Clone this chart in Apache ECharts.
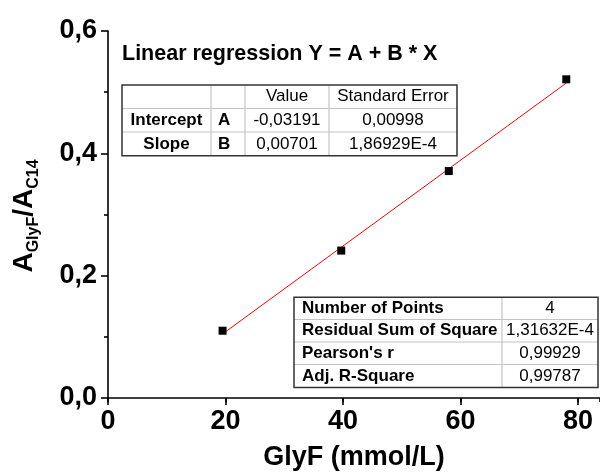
<!DOCTYPE html>
<html>
<head>
<meta charset="utf-8">
<script src="https://cdn.jsdelivr.net/npm/echarts@6/dist/echarts.min.js"></script>
<style>
  html, body { margin: 0; padding: 0; background: #fff; }
  #chart { width: 600px; height: 476px; }
</style>
</head>
<body>
<div id="chart"></div>
<script>
// Measured points: GlyF concentration vs. peak-area ratio
var concentration = [19.5, 39.7, 58.0, 78.0];
var areaRatio = [0.110, 0.241, 0.371, 0.521];

// Linear fit parameters (Y = A + B * X)
var fitIntercept = -0.03191;
var fitSlope = 0.00701;

// Axis tick values
var xTicks = [0, 20, 40, 60, 80];
var xMinorTicks = [10, 30, 50, 70];
var yTicks = [0.0, 0.2, 0.4, 0.6];
var xAxisEnd = 83.74;

// Parameter table
var paramHeader = ['', '', 'Value', 'Standard Error'];
var paramRows = [
  ['Intercept', 'A', '-0,03191', '0,00998'],
  ['Slope', 'B', '0,00701', '1,86929E-4']
];

// Statistics table
var statRows = [
  ['Number of Points', '4'],
  ['Residual Sum of Square', '1,31632E-4'],
  ["Pearson's r", '0,99929'],
  ['Adj. R-Square', '0,99787']
];

var FONT = 'Arial, "Liberation Sans", Helvetica, sans-serif';

// Fitted line spans the measured range
var xFirst = concentration[0];
var xLast = concentration[concentration.length - 1];
var fitLine = [
  [xFirst, fitIntercept + fitSlope * xFirst],
  [xLast, fitIntercept + fitSlope * xLast]
];

function commaDecimal(v) {
  return v.toFixed(1).replace('.', ',');
}

// Build a bordered table out of graphic elements
function buildTable(colEdges, rowEdges, cells, cellStyle) {
  var els = [];
  var x0 = colEdges[0], x1 = colEdges[colEdges.length - 1];
  var y0 = rowEdges[0], y1 = rowEdges[rowEdges.length - 1];
  var i;
  for (i = 1; i < rowEdges.length - 1; i++) {
    els.push({ type: 'line', shape: { x1: x0, y1: rowEdges[i], x2: x1, y2: rowEdges[i] },
      style: { stroke: '#c4c4c4', lineWidth: 1.2 } });
  }
  for (i = 1; i < colEdges.length - 1; i++) {
    els.push({ type: 'line', shape: { x1: colEdges[i], y1: y0, x2: colEdges[i], y2: y1 },
      style: { stroke: '#c4c4c4', lineWidth: 1.2 } });
  }
  els.push({ type: 'rect', shape: { x: x0, y: y0, width: x1 - x0, height: y1 - y0 },
    style: { fill: null, stroke: '#333', lineWidth: 1.5 } });
  cells.forEach(function (row, r) {
    row.forEach(function (txt, c) {
      if (!txt) return;
      var st = cellStyle(r, c);
      var cx = st.align === 'left' ? colEdges[c] + st.pad : (colEdges[c] + colEdges[c + 1]) / 2;
      els.push({ type: 'text', x: cx, y: (rowEdges[r] + rowEdges[r + 1]) / 2,
        style: { text: txt, align: st.align, verticalAlign: 'middle', fill: '#000',
          font: (st.bold ? 'bold ' : '') + '17px ' + FONT } });
    });
  });
  return els;
}

var graphics = [];

// Regression caption
graphics.push({ type: 'text', x: 122, y: 53.6,
  style: { text: 'Linear regression Y = A + B * X', align: 'left', verticalAlign: 'middle',
    fill: '#000', font: 'bold 21.5px ' + FONT } });

graphics = graphics.concat(buildTable(
  [122, 211, 245, 329, 457],
  [85, 108.5, 132, 155.7],
  [paramHeader].concat(paramRows),
  function (r, c) {
    if (r > 0 && c === 0) return { align: 'center', bold: true };
    if (r > 0 && c === 1) return { align: 'left', pad: 7, bold: true };
    return { align: 'center', bold: false };
  }
));

graphics = graphics.concat(buildTable(
  [294, 502, 598],
  [297.3, 319.5, 342, 364.5, 387.5],
  statRows,
  function (r, c) {
    if (c === 0) return { align: 'left', pad: 8, bold: true };
    return { align: 'center', bold: false };
  }
));

// Y axis title with subscripts
graphics.push({ type: 'text', x: 24, y: 216, rotation: Math.PI / 2,
  style: {
    text: '{a|A}{s|GlyF}{a|/A}{s|C14}', align: 'center', verticalAlign: 'middle',
    rich: {
      a: { fontSize: 28, fontWeight: 'bold', fontFamily: FONT, lineHeight: 36, verticalAlign: 'middle', fill: '#000' },
      s: { fontSize: 16, fontWeight: 'bold', fontFamily: FONT, lineHeight: 12, verticalAlign: 'bottom', fill: '#000' }
    }
  } });

var AXIS_W = 1.6;
var labelFont = { fontFamily: FONT, fontWeight: 'bold', fontSize: 27, color: '#000' };

var chart = echarts.init(document.getElementById('chart'), null, { renderer: 'canvas' });
chart.setOption({
  animation: false,
  backgroundColor: '#fff',
  grid: { left: 108, top: 31, right: 0, bottom: 74, containLabel: false },
  xAxis: [
    {
      // main bottom axis: line, long ticks, labels and title
      type: 'value',
      min: xTicks[0],
      max: xAxisEnd,
      interval: xTicks[1] - xTicks[0],
      name: 'GlyF (mmol/L)',
      nameLocation: 'middle',
      nameGap: 46,
      nameTextStyle: { fontFamily: FONT, fontWeight: 'bold', fontSize: 27, color: '#000' },
      axisLine: { show: true, onZero: false, lineStyle: { color: '#000', width: AXIS_W } },
      axisTick: { show: true, length: 7, lineStyle: { color: '#000', width: AXIS_W } },
      minorTick: { show: false },
      splitLine: { show: false },
      axisLabel: Object.assign({
        margin: 10,
        showMaxLabel: false,
        formatter: function (v) { return xTicks.indexOf(v) >= 0 ? String(v) : ''; }
      }, labelFont)
    },
    {
      // short intermediate ticks
      type: 'value',
      position: 'bottom',
      min: xTicks[0],
      max: xAxisEnd,
      interval: xMinorTicks[1] - xMinorTicks[0],
      axisLine: { show: false, onZero: false },
      axisTick: { show: true, length: 4, lineStyle: { color: '#000', width: AXIS_W } },
      axisLabel: { show: false },
      splitLine: { show: false }
    }
  ],
  yAxis: {
    type: 'value',
    min: yTicks[0],
    max: yTicks[yTicks.length - 1],
    interval: yTicks[1] - yTicks[0],
    axisLine: { show: true, onZero: false, lineStyle: { color: '#000', width: AXIS_W } },
    axisTick: { show: true, length: 7, lineStyle: { color: '#000', width: AXIS_W } },
    minorTick: { show: true, splitNumber: 2, length: 4, lineStyle: { color: '#000', width: AXIS_W } },
    splitLine: { show: false },
    axisLabel: Object.assign({ margin: 11, formatter: commaDecimal }, labelFont)
  },
  series: [
    {
      type: 'line',
      data: fitLine,
      showSymbol: false,
      symbol: 'none',
      lineStyle: { color: '#ff0000', width: 1 },
      z: 2
    },
    {
      type: 'scatter',
      data: concentration.map(function (x, i) { return [x, areaRatio[i]]; }),
      symbol: 'rect',
      symbolSize: 8,
      itemStyle: { color: '#000', opacity: 1 },
      z: 3
    }
  ],
  graphic: graphics
});
</script>
</body>
</html>
